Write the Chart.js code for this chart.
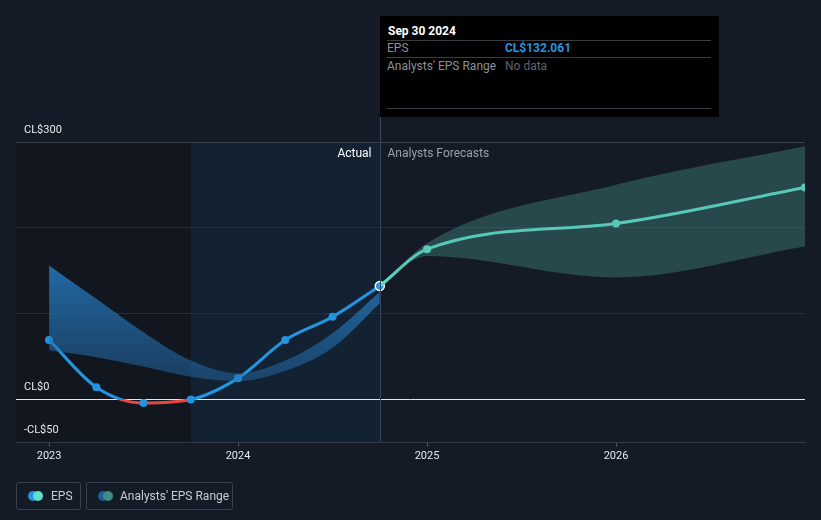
<!DOCTYPE html>
<html>
<head>
<meta charset="utf-8">
<script src="https://cdn.jsdelivr.net/npm/chart.js@4.4.1/dist/chart.umd.min.js"></script>
<style>
	html, body { margin: 0; padding: 0; background: #151b26; font-family: Roboto, "Noto Sans", sans-serif; }
	#wrap { position: relative; width: 821px; height: 520px; overflow: hidden; }
	#chartCanvas { position: absolute; left: 0; top: 0; }
	.tip { position: absolute; left: 380px; top: 16px; width: 339px; height: 101px; background: #000; }
	.tip .date { position: absolute; left: 8px; top: 8px; color: #fff; font-size: 12px; font-weight: bold; }
	.tip .rule { position: absolute; left: 7px; width: 324px; height: 1px; background: #3a3d42; }
	.tip .lbl { position: absolute; left: 7px; color: #8a8f96; font-size: 12px; }
	.tip .val { position: absolute; left: 125px; font-size: 12px; }
	.legend { position: absolute; top: 482px; height: 28px; border: 1px solid #3a404a; border-radius: 3px; box-sizing: border-box;
		color: #c8ccd2; font-size: 12px; line-height: 26px; }
	.legend .dots { position: absolute; left: 11px; top: 8px; width: 15px; height: 10px; }
	.legend .dots span { position: absolute; top: 0; width: 10px; height: 10px; border-radius: 50%; }
	.legend .txt { position: absolute; left: 32px; top: 0; white-space: nowrap; }
</style>
</head>
<body>
<div id="wrap">
	<canvas id="chartCanvas" width="821" height="520"></canvas>
	<div class="tip">
		<div class="date">Sep 30 2024</div>
		<div class="rule" style="top:24px"></div>
		<div class="lbl" style="top:25px">EPS</div>
		<div class="val" style="top:25px;color:#2394df;font-weight:bold">CL$132.061</div>
		<div class="rule" style="top:41px"></div>
		<div class="lbl" style="top:43px">Analysts' EPS Range</div>
		<div class="val" style="top:43px;color:#5f646b">No data</div>
		<div class="rule" style="top:92px"></div>
	</div>
	<div class="legend" style="left:16px;width:65px">
		<div class="dots"><span style="left:0;background:#2394df"></span><span style="left:5px;background:#5de0c8"></span></div>
		<div class="txt" style="left:34px">EPS</div>
	</div>
	<div class="legend" style="left:86px;width:147px">
		<div class="dots"><span style="left:0;background:#1f5f8f"></span><span style="left:5px;background:#3f8c84"></span></div>
		<div class="txt" style="left:33px">Analysts' EPS Range</div>
	</div>
</div>
<script>
// values (CL$)
const actualX = [2023.0, 2023.25, 2023.5, 2023.75, 2024.0, 2024.25, 2024.5, 2024.75];
const actualEps = [69, 14, -4.5, -0.5, 24.5, 69, 96, 132.061];
const pastHigh = [156, 117, 78, 45, 30, 45, 77, 125];
const pastLow = [57, 49, 38, 26, 21, 33, 60, 112];

const forecastX = [2024.75, 2025.0, 2026.0, 2027.0];
const forecastEps = [132.061, 175, 205, 247];
const forecastHigh = [132.061, 182, 250, 295];
const forecastLow = [132.061, 167, 142, 178];

const yearTicks = [2023, 2024, 2025, 2026];
const valueTicks = [-50, 0, 100, 200, 300];
const labelledTicks = [-50, 0, 300];

const pastStart = 2023.75;
const nowX = 2024.75;

function pts(xs, ys) {
	return xs.map((x, i) => ({ x, y: ys[i] }));
}

function epsColor(ctx) {
	const chart = ctx.chart;
	const area = chart.chartArea;
	if (!area) return '#2394df';
	const zero = chart.scales.y.getPixelForValue(0);
	const stop = Math.min(Math.max((zero - area.top) / (area.bottom - area.top), 0), 1);
	const g = chart.ctx.createLinearGradient(0, area.top, 0, area.bottom);
	g.addColorStop(0, '#2394df');
	g.addColorStop(stop, '#2394df');
	g.addColorStop(stop, '#e64545');
	g.addColorStop(1, '#e64545');
	return g;
}

function pastFill(ctx) {
	const chart = ctx.chart;
	const area = chart.chartArea;
	if (!area) return 'rgba(36,120,190,0.5)';
	const g = chart.ctx.createLinearGradient(0, chart.scales.y.getPixelForValue(160), 0, chart.scales.y.getPixelForValue(20));
	g.addColorStop(0, 'rgba(40,128,200,0.8)');
	g.addColorStop(1, 'rgba(36,110,175,0.45)');
	return g;
}

const backdrop = {
	id: 'backdrop',
	beforeDraw(chart) {
		const { ctx, chartArea: a, scales: { x } } = chart;
		const xs = x.getPixelForValue(pastStart);
		const xn = x.getPixelForValue(nowX);
		ctx.save();
		ctx.fillStyle = '#11161f';
		ctx.fillRect(a.left, a.top, xs - a.left, a.bottom - a.top);
		ctx.fillStyle = '#132233';
		ctx.fillRect(xs, a.top, xn - xs, a.bottom - a.top);
		ctx.restore();
	},
	afterDatasetsDraw(chart) {
		const { ctx, chartArea: a, scales: { x } } = chart;
		const xn = Math.round(x.getPixelForValue(nowX)) + 0.5;
		ctx.save();
		ctx.strokeStyle = '#34475c';
		ctx.lineWidth = 1;
		ctx.beginPath();
		ctx.moveTo(xn, 16);
		ctx.lineTo(xn, a.bottom);
		ctx.stroke();
		ctx.font = '12px Roboto, "Noto Sans", sans-serif';
		ctx.textBaseline = 'middle';
		ctx.textAlign = 'right';
		ctx.fillStyle = '#ffffff';
		ctx.fillText('Actual', xn - 9, a.top + 12);
		ctx.textAlign = 'left';
		ctx.fillStyle = '#9aa0a8';
		ctx.fillText('Analysts Forecasts', xn + 7, a.top + 12);
		ctx.restore();
	}
};

const chart = new Chart(document.getElementById('chartCanvas'), {
	type: 'line',
	data: {
		datasets: [
			{ data: pts(actualX, pastHigh), fill: '+1', backgroundColor: pastFill, borderWidth: 0, pointRadius: 0, cubicInterpolationMode: 'monotone' },
			{ data: pts(actualX, pastLow), fill: false, borderWidth: 0, pointRadius: 0, cubicInterpolationMode: 'monotone' },
			{ data: pts(forecastX, forecastHigh), fill: '+1', backgroundColor: 'rgba(70,150,140,0.38)', borderWidth: 0, pointRadius: 0, cubicInterpolationMode: 'monotone' },
			{ data: pts(forecastX, forecastLow), fill: false, borderWidth: 0, pointRadius: 0, cubicInterpolationMode: 'monotone' },
			{
				data: pts(forecastX, forecastEps), borderColor: '#62e8d0', borderWidth: 3,
				pointRadius: c => c.dataIndex === 0 ? 0 : 4, pointBackgroundColor: '#62e8d0', pointBorderWidth: 0,
				cubicInterpolationMode: 'monotone', fill: false
			},
			{
				data: pts(actualX, actualEps), borderColor: epsColor, borderWidth: 3,
				pointRadius: c => c.dataIndex === actualX.length - 1 ? 4.5 : 4,
				pointBackgroundColor: '#2394df',
				pointBorderColor: c => c.dataIndex === actualX.length - 1 ? '#ffffff' : '#2394df',
				pointBorderWidth: c => c.dataIndex === actualX.length - 1 ? 1.5 : 0,
				cubicInterpolationMode: 'monotone', fill: false
			}
		]
	},
	options: {
		responsive: false,
		animation: false,
		events: [],
		layout: { padding: { left: 16, right: 16, top: 142, bottom: 58 } },
		plugins: { legend: { display: false }, tooltip: { enabled: false } },
		scales: {
			x: {
				type: 'linear', min: 2022.825, max: 2027.0,
				afterBuildTicks: s => { s.ticks = yearTicks.map(v => ({ value: v })); },
				afterFit: s => { s.height = 20; },
				grid: { drawOnChartArea: false, drawTicks: true, tickLength: 5, color: '#4a505a' },
				border: { color: '#343a44' },
				ticks: { color: '#e8eaed', font: { size: 11, family: 'Roboto' }, padding: 3, callback: v => String(v) }
			},
			y: {
				min: -50, max: 300,
				afterBuildTicks: s => { s.ticks = valueTicks.map(v => ({ value: v })); },
				afterFit: s => { s.width = 0; },
				border: { display: false },
				grid: {
					drawTicks: false,
					color: c => c.tick.value === 0 ? '#e6e6e6' : (c.tick.value === 300 ? '#3a404a' : (c.tick.value === -50 ? '#343a44' : '#262d38'))
				},
				ticks: {
					mirror: true, padding: 8, labelOffset: -12,
					color: '#e8eaed', font: { size: 11, family: 'Roboto' },
					callback: v => labelledTicks.includes(v) ? (v < 0 ? '-CL$' + Math.abs(v) : 'CL$' + v) : ''
				}
			}
		}
	},
	plugins: [backdrop]
});
</script>
</body>
</html>
